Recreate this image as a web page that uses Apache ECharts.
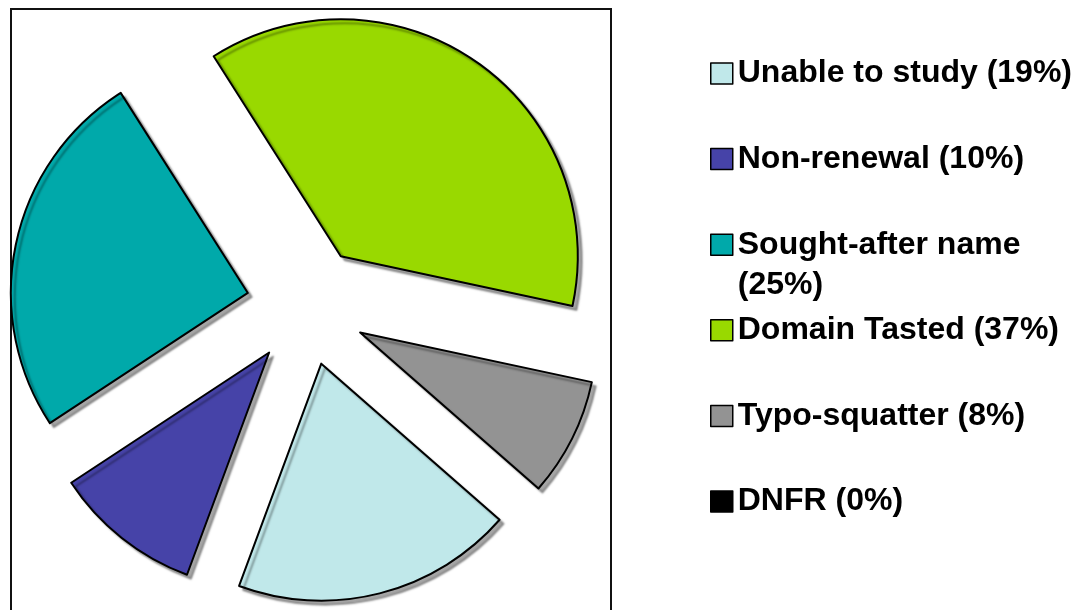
<!DOCTYPE html>
<html>
<head>
<meta charset="utf-8">
<script src="https://cdn.jsdelivr.net/npm/echarts@6/dist/echarts.min.js"></script>
<style>
  html, body { margin: 0; padding: 0; background: #fff; }
  #pie-chart { width: 1082px; height: 610px; }
</style>
</head>
<body>
<div id="pie-chart"></div>
<script>
// data
var names = ['Unable to study', 'Non-renewal', 'Sought-after name', 'Domain Tasted', 'Typo-squatter', 'DNFR'];
var values = [19, 10, 25, 37, 8, 0];
var colors = ['#c0e8ea', '#4643a8', '#00a9aa', '#99d900', '#939393', '#000000'];

var piechart = echarts.init(document.getElementById('pie-chart'));

var pieData = [];
for (var i = 0; i < names.length; i++) {
    pieData.push({
        name: names[i],
        value: values[i],
        selected: true,
        itemStyle: {
            color: colors[i],
            borderWidth: values[i] === 0 ? 0 : 2 //0%的扇区不画线
        }
    });
}

// 每个图例单独放, 控制间距
var legends = [];
for (var j = 0; j < names.length; j++) {
    var cy = 73.5 + 85.6 * j;
    var twoLine = names[j] === 'Sought-after name';
    legends.push({
        orient: 'vertical',
        left: 710,
        top: twoLine ? cy - 60 : cy - 20,
        padding: 0,
        icon: 'rect',
        itemWidth: 22,
        itemHeight: 21,
        selectedMode: false,
        data: [names[j]],
        itemStyle: {
            borderColor: '#000',
            borderWidth: 1.5,
            shadowBlur: 0,
            shadowOffsetX: 0,
            shadowOffsetY: 0
        },
        formatter: function (name) {
            var v = values[names.indexOf(name)];
            if (name === 'Sought-after name') {
                // 空的第一行, 让图标对齐第一行文字
                return '\n' + name + '\n(' + v + '%)';
            }
            return name + ' (' + v + '%)';
        },
        textStyle: {
            color: '#000',
            fontFamily: 'Liberation Sans, Arial, sans-serif',
            fontWeight: 'bold',
            fontSize: 32,
            lineHeight: 40
        }
    });
}

var option = {
    animation: false,
    legend: legends,
    graphic: [{
        type: 'rect',
        z: -10,
        shape: { x: 11, y: 9, width: 600, height: 700 },
        style: { fill: 'none', stroke: '#111', lineWidth: 2 }
    }],
    series: [{
        type: 'pie',
        center: [306.5, 305.5],
        radius: 237,
        startAngle: 318.8,
        clockwise: true,
        selectedMode: 'multiple',
        selectedOffset: 60,
        avoidLabelOverlap: false,
        label: { show: false },
        labelLine: { show: false },
        emphasis: { disabled: true },
        itemStyle: {
            borderColor: '#000',
            borderWidth: 2,
            shadowColor: 'rgba(0, 0, 0, 0.35)',
            shadowBlur: 2,
            shadowOffsetX: 4,
            shadowOffsetY: 4
        },
        data: pieData
    }]
};
piechart.setOption(option);
</script>
</body>
</html>
